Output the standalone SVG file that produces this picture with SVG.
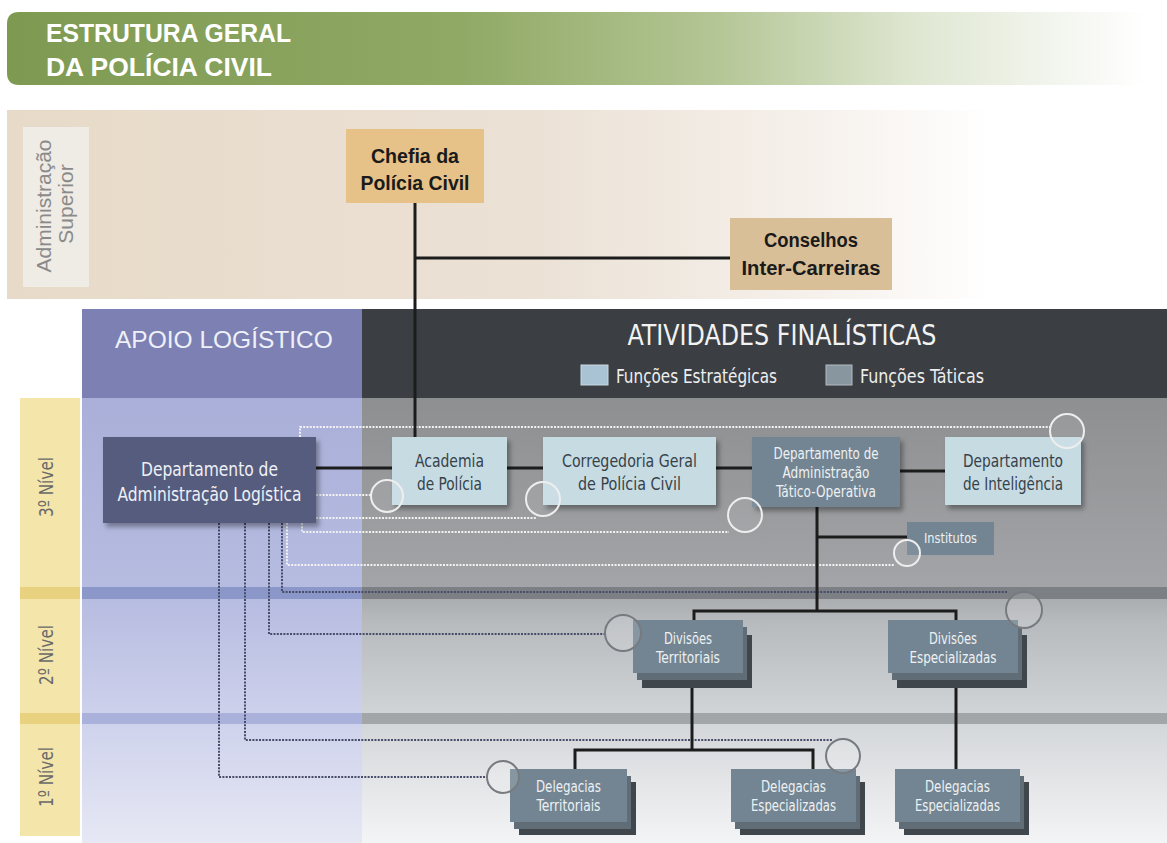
<svg xmlns="http://www.w3.org/2000/svg" width="1167" height="843" viewBox="0 0 1167 843">
<defs>
<linearGradient id="gTitle" x1="0" y1="0" x2="1" y2="0">
<stop offset="0" stop-color="#7e9a52"/>
<stop offset="0.4" stop-color="#90a965"/>
<stop offset="0.62" stop-color="#b3c594"/>
<stop offset="0.8" stop-color="#dfe7d2"/>
<stop offset="0.93" stop-color="#f4f6f0"/>
<stop offset="1" stop-color="#ffffff"/>
</linearGradient>
<linearGradient id="gAdm" x1="0" y1="0" x2="1" y2="0">
<stop offset="0" stop-color="#e7dac8"/>
<stop offset="0.45" stop-color="#ebe1d5"/>
<stop offset="0.7" stop-color="#f6f1ec"/>
<stop offset="0.85" stop-color="#ffffff"/>
<stop offset="1" stop-color="#ffffff"/>
</linearGradient>
<linearGradient id="gRight" x1="0" y1="0" x2="0" y2="1">
<stop offset="0" stop-color="#8d8f91"/>
<stop offset="0.42" stop-color="#a2a4a7"/>
<stop offset="0.5" stop-color="#b7babd"/>
<stop offset="0.7" stop-color="#d0d3d6"/>
<stop offset="1" stop-color="#f3f4f6"/>
</linearGradient>
<linearGradient id="gLeft" x1="0" y1="0" x2="0" y2="1">
<stop offset="0" stop-color="#a9afd8"/>
<stop offset="0.45" stop-color="#b7bce1"/>
<stop offset="0.7" stop-color="#ccd0eb"/>
<stop offset="1" stop-color="#e6e8f4"/>
</linearGradient>
<filter id="sh" x="-10%" y="-10%" width="130%" height="140%">
<feDropShadow dx="3" dy="4" stdDeviation="2.5" flood-color="#000" flood-opacity="0.35"/>
</filter>
<style>
.n{font-family:"Liberation Sans Narrow","DejaVu Sans Condensed","Liberation Sans",sans-serif}
.a{font-family:"Liberation Sans",Arial,sans-serif}
.b{font-family:"Liberation Sans",Arial,sans-serif;font-weight:bold}
.m{text-anchor:middle}
.sol{fill:none;stroke:#1c1c1c;stroke-width:3}
.dw{fill:none;stroke:#f2f2f2;stroke-width:2;stroke-dasharray:2 1.3}
.dd{fill:none;stroke:#474c68;stroke-width:2;stroke-dasharray:2 1.3}
.cw{fill:#ffffff;fill-opacity:0.08;stroke:#eeeeee;stroke-width:2}
.cd{fill:#ffffff;fill-opacity:0.15;stroke:#777b80;stroke-width:2}
.lb{fill:#c7dbe3}
.lbt{fill:#36424a}
.tac{fill:#738592}
.tact{fill:#eef1f3}
.l1{fill:#606d76}
.l2{fill:#3f464c}
.lvl{fill:#6a6a6a}
</style>
</defs>

<!-- title banner -->
<g id="title">
<path d="M19 12 H1145 V85 H19 Q7 85 7 73 V24 Q7 12 19 12 Z" fill="url(#gTitle)"/>
<text class="b" x="46" y="42" font-size="25" fill="#ffffff" textLength="245" lengthAdjust="spacingAndGlyphs">ESTRUTURA GERAL</text>
<text class="b" x="46" y="76" font-size="25" fill="#ffffff" textLength="226" lengthAdjust="spacingAndGlyphs">DA POLÍCIA CIVIL</text>
</g>

<!-- administration band -->
<g id="admin-band">
<rect x="7" y="110" width="1160" height="189" fill="url(#gAdm)"/>
<rect x="23" y="127" width="66" height="160" fill="#efebe5"/>
<text class="a m" font-size="21" fill="#8a8a8a" transform="translate(51,206) rotate(-90)">Administração</text>
<text class="a m" font-size="21" fill="#8a8a8a" transform="translate(73,204) rotate(-90)">Superior</text>
</g>

<!-- body backgrounds -->
<g id="body">
<rect x="82" y="398" width="280" height="445" fill="url(#gLeft)"/>
<rect x="362" y="398" width="805" height="445" fill="url(#gRight)"/>
<rect x="82" y="587" width="280" height="12" fill="#8c97c9"/>
<rect x="362" y="587" width="805" height="12" fill="#7c8084"/>
<rect x="82" y="713" width="280" height="11" fill="#aab1da"/>
<rect x="362" y="713" width="805" height="11" fill="#a2a6a9"/>
<rect x="20" y="398" width="60" height="438" fill="#f4e6aa"/>
<rect x="20" y="587" width="60" height="12" fill="#e9d27f"/>
<rect x="20" y="713" width="60" height="11" fill="#e9d27f"/>
<text class="n m lvl" font-size="20" transform="translate(53,487) rotate(-90)" textLength="60" lengthAdjust="spacingAndGlyphs">3º Nível</text>
<text class="n m lvl" font-size="20" transform="translate(53,655) rotate(-90)" textLength="60" lengthAdjust="spacingAndGlyphs">2º Nível</text>
<text class="n m lvl" font-size="20" transform="translate(53,777) rotate(-90)" textLength="60" lengthAdjust="spacingAndGlyphs">1º Nível</text>
</g>

<!-- headers -->
<g id="header-apoio">
<rect x="82" y="309" width="280" height="89" fill="#7c80b2"/>
<text class="a" x="115" y="348" font-size="24.5" fill="#eef0f8">APOIO LOGÍSTICO</text>
</g>
<g id="header-atividades">
<rect x="362" y="309" width="805" height="89" fill="#3b3f43"/>
<text class="n m" x="782" y="345" font-size="28" fill="#f2f2f2" textLength="309" lengthAdjust="spacingAndGlyphs">ATIVIDADES FINALÍSTICAS</text>
<rect x="581" y="365" width="27" height="20" fill="#a9c3d4" stroke="#c9d7e0" stroke-width="1"/>
<text class="n" x="616" y="383" font-size="20" fill="#eeeeee" textLength="161" lengthAdjust="spacingAndGlyphs">Funções Estratégicas</text>
<rect x="826" y="365" width="26" height="20" fill="#8896a0" stroke="#b3bcc2" stroke-width="1"/>
<text class="n" x="860" y="383" font-size="20" fill="#eeeeee" textLength="124" lengthAdjust="spacingAndGlyphs">Funções Táticas</text>
</g>

<!-- connectors -->
<g id="connectors">
<path class="dw" d="M300 437 V427 H1050"/>
<path class="dw" d="M316 495 H371"/>
<path class="dw" d="M316 518 H537"/>
<path class="dw" d="M302 523 V532 H729"/>
<path class="dw" d="M287 523 V565 H895"/>
<path class="dd" d="M282 523 V592 H1008" stroke="#3c3f52"/>
<path class="dd" d="M269 523 V634 H605"/>
<path class="dd" d="M245 523 V740 H832"/>
<path class="dd" d="M219 523 V777 H487"/>
<path class="sol" d="M415 203 V437"/>
<path class="sol" d="M415 258 H730"/>
<path class="sol" d="M316 468 H392"/>
<path class="sol" d="M507 468 H543"/>
<path class="sol" d="M716 468 H752"/>
<path class="sol" d="M900 471 H945"/>
<path class="sol" d="M817 507 V611"/>
<path class="sol" d="M817 537 H907"/>
<path class="sol" d="M694 620 V611 H956 V620"/>
<path class="sol" d="M692 688 V750"/>
<path class="sol" d="M575 769 V750 H813 V769"/>
<path class="sol" d="M956 688 V769"/>
</g>

<!-- nodes -->
<g id="chefia">
<rect x="346" y="129" width="138" height="74" fill="#e6c288"/>
<text class="b m" x="415" y="163" font-size="20" fill="#1a1a1a" textLength="88" lengthAdjust="spacingAndGlyphs">Chefia da</text>
<text class="b m" x="415" y="190" font-size="20" fill="#1a1a1a" textLength="109" lengthAdjust="spacingAndGlyphs">Polícia Civil</text>
</g>
<g id="conselhos">
<rect x="730" y="218" width="162" height="72" fill="#d8bf98"/>
<text class="b m" x="811" y="247" font-size="20" fill="#1a1a1a" textLength="94" lengthAdjust="spacingAndGlyphs">Conselhos</text>
<text class="b m" x="811" y="275" font-size="20" fill="#1a1a1a" textLength="139" lengthAdjust="spacingAndGlyphs">Inter-Carreiras</text>
</g>
<g id="logistica">
<rect x="103" y="437" width="213" height="86" fill="#575c7e" filter="url(#sh)"/>
<text class="n m" x="209.5" y="476" font-size="20" fill="#eef0f6" textLength="137" lengthAdjust="spacingAndGlyphs">Departamento de</text>
<text class="n m" x="209.5" y="501" font-size="20" fill="#eef0f6" textLength="184" lengthAdjust="spacingAndGlyphs">Administração Logística</text>
</g>
<g id="academia">
<rect class="lb" x="392" y="437" width="115" height="68" filter="url(#sh)"/>
<text class="n m lbt" x="449.5" y="467" font-size="18" textLength="69" lengthAdjust="spacingAndGlyphs">Academia</text>
<text class="n m lbt" x="449.5" y="490" font-size="18" textLength="65" lengthAdjust="spacingAndGlyphs">de Polícia</text>
</g>
<g id="corregedoria">
<rect class="lb" x="543" y="437" width="173" height="68" filter="url(#sh)"/>
<text class="n m lbt" x="629.5" y="467" font-size="18" textLength="135" lengthAdjust="spacingAndGlyphs">Corregedoria Geral</text>
<text class="n m lbt" x="629.5" y="490" font-size="18" textLength="103" lengthAdjust="spacingAndGlyphs">de Polícia Civil</text>
</g>
<g id="tatico">
<rect class="tac" x="752" y="437" width="148" height="70" filter="url(#sh)"/>
<text class="n m tact" x="826" y="459" font-size="15" textLength="105" lengthAdjust="spacingAndGlyphs">Departamento de</text>
<text class="n m tact" x="826" y="478" font-size="15" textLength="87" lengthAdjust="spacingAndGlyphs">Administração</text>
<text class="n m tact" x="826" y="497" font-size="15" textLength="100" lengthAdjust="spacingAndGlyphs">Tático-Operativa</text>
</g>
<g id="inteligencia">
<rect class="lb" x="945" y="437" width="136" height="68" filter="url(#sh)"/>
<text class="n m lbt" x="1013" y="467" font-size="18" textLength="100" lengthAdjust="spacingAndGlyphs">Departamento</text>
<text class="n m lbt" x="1013" y="490" font-size="18" textLength="100" lengthAdjust="spacingAndGlyphs">de Inteligência</text>
</g>
<g id="institutos">
<rect class="tac" x="907" y="522" width="87" height="33"/>
<text class="n m tact" x="950.5" y="543" font-size="14" textLength="53" lengthAdjust="spacingAndGlyphs">Institutos</text>
</g>
<g id="divisoes-territoriais">
<rect class="l2" x="642" y="635" width="110" height="53"/>
<rect class="l1" x="637" y="627" width="110" height="53"/>
<rect class="tac" x="633" y="620" width="110" height="53"/>
<text class="n m tact" x="688" y="644" font-size="15" textLength="48" lengthAdjust="spacingAndGlyphs">Divisões</text>
<text class="n m tact" x="688" y="663" font-size="15" textLength="64" lengthAdjust="spacingAndGlyphs">Territoriais</text>
</g>
<g id="divisoes-especializadas">
<rect class="l2" x="897" y="635" width="130" height="53"/>
<rect class="l1" x="892" y="627" width="130" height="53"/>
<rect class="tac" x="888" y="620" width="130" height="53"/>
<text class="n m tact" x="953" y="644" font-size="15" textLength="48" lengthAdjust="spacingAndGlyphs">Divisões</text>
<text class="n m tact" x="953" y="663" font-size="15" textLength="87" lengthAdjust="spacingAndGlyphs">Especializadas</text>
</g>
<g id="delegacias-territoriais">
<rect class="l2" x="519" y="782" width="117" height="53"/>
<rect class="l1" x="514" y="776" width="117" height="53"/>
<rect class="tac" x="510" y="769" width="117" height="53"/>
<text class="n m tact" x="568.5" y="792" font-size="15" textLength="65" lengthAdjust="spacingAndGlyphs">Delegacias</text>
<text class="n m tact" x="568.5" y="811" font-size="15" textLength="64" lengthAdjust="spacingAndGlyphs">Territoriais</text>
</g>
<g id="delegacias-especializadas-1">
<rect class="l2" x="740" y="782" width="125" height="53"/>
<rect class="l1" x="735" y="776" width="125" height="53"/>
<rect class="tac" x="731" y="769" width="125" height="53"/>
<text class="n m tact" x="793.5" y="792" font-size="15" textLength="65" lengthAdjust="spacingAndGlyphs">Delegacias</text>
<text class="n m tact" x="793.5" y="811" font-size="15" textLength="85" lengthAdjust="spacingAndGlyphs">Especializadas</text>
</g>
<g id="delegacias-especializadas-2">
<rect class="l2" x="904" y="782" width="125" height="53"/>
<rect class="l1" x="899" y="776" width="125" height="53"/>
<rect class="tac" x="895" y="769" width="125" height="53"/>
<text class="n m tact" x="957.5" y="792" font-size="15" textLength="65" lengthAdjust="spacingAndGlyphs">Delegacias</text>
<text class="n m tact" x="957.5" y="811" font-size="15" textLength="85" lengthAdjust="spacingAndGlyphs">Especializadas</text>
</g>

<!-- connector end circles -->
<g id="connector-ends">
<circle class="cw" cx="1067" cy="431" r="17"/>
<circle class="cw" cx="387" cy="496" r="16"/>
<circle class="cw" cx="543" cy="499" r="17"/>
<circle class="cw" cx="745" cy="515" r="17"/>
<circle class="cw" cx="907" cy="553" r="13"/>
<circle class="cd" cx="1024" cy="610" r="18"/>
<circle class="cd" cx="623" cy="633" r="18"/>
<circle class="cd" cx="843" cy="756" r="17"/>
<circle class="cd" cx="503" cy="777" r="16"/>
</g>
</svg>
